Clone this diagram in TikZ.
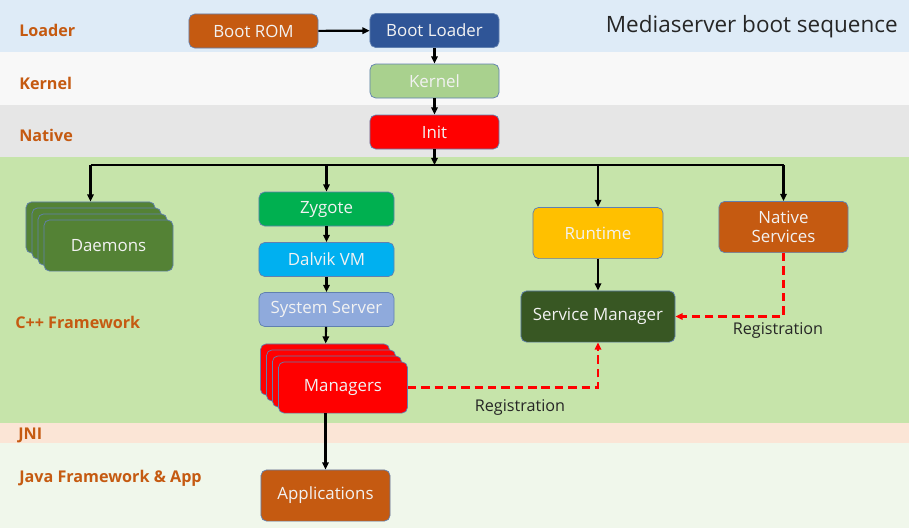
\documentclass[tikz,border=0pt]{standalone}
\usepackage{fontspec}
\setmainfont{Open Sans}
\usetikzlibrary{arrows.meta, positioning}
\definecolor{loaderband}{RGB}{222,235,247}
\definecolor{kernelband}{RGB}{248,248,248}
\definecolor{nativeband}{RGB}{230,230,230}
\definecolor{cppband}{RGB}{198,228,170}
\definecolor{jniband}{RGB}{251,229,214}
\definecolor{javaband}{RGB}{240,247,235}
\definecolor{tiercolor}{RGB}{197,90,17}
\definecolor{boxborder}{RGB}{96,128,176}
\definecolor{boxtext}{RGB}{242,242,242}
\definecolor{romcolor}{RGB}{197,90,17}
\definecolor{loadercolor}{RGB}{47,85,151}
\definecolor{kernelcolor}{RGB}{169,209,142}
\definecolor{initcolor}{RGB}{255,0,0}
\definecolor{daemoncolor}{RGB}{84,130,53}
\definecolor{zygotecolor}{RGB}{0,176,80}
\definecolor{dalvikcolor}{RGB}{0,176,240}
\definecolor{servercolor}{RGB}{143,170,220}
\definecolor{runtimecolor}{RGB}{255,192,0}
\definecolor{svcmgrcolor}{RGB}{56,87,35}
\tikzset{
    box/.style={rectangle, draw=boxborder, rounded corners=4pt, line width=0.5pt,
        minimum width=3.225cm, minimum height=0.85cm, align=center, text=boxtext,
        font=\fontsize{12}{14}\selectfont},
    widebox/.style={box, minimum width=3.375cm},
    tallbox/.style={box, minimum height=1.28cm},
    tier/.style={anchor=west, inner sep=0pt, text=tiercolor,
        font=\fontsize{11.5}{13}\selectfont\bfseries},
    note/.style={inner sep=0pt, text=black!85, font=\fontsize{11.5}{13}\selectfont},
    arrow/.style={-{Triangle[length=1.8mm,width=1.6mm]}, line width=1.5pt},
    wire/.style={line width=1.5pt},
    regline/.style={-{Triangle[length=1.8mm,width=1.6mm]}, red, line width=1.6pt,
        dash pattern=on 6pt off 3.5pt}
}

\begin{document}
\begin{tikzpicture}[x=0.025cm, y=-0.025cm]

    \useasboundingbox (0,0) rectangle (909,528);

    % layer bands
    \fill[loaderband] (0,0) rectangle (909,52);
    \fill[kernelband] (0,52) rectangle (909,105);
    \fill[nativeband] (0,105) rectangle (909,157);
    \fill[cppband] (0,157) rectangle (909,423);
    \fill[jniband] (0,423) rectangle (909,443);
    \fill[javaband] (0,443) rectangle (909,528);

    \node[tier] (tloader) at (19,30) {Loader};
    \node[tier] (tkernel) at (19,83) {Kernel};
    \node[tier] (tnative) at (19,135) {Native};
    \node[tier] (tcpp) at (15,322) {C++ Framework};
    \node[tier] (tjni) at (18,435) {JNI};
    \node[tier] (tjava) at (19,478) {Java Framework \& App};

    \node[anchor=east, inner sep=0pt, text=black!85, font=\fontsize{16}{19}\selectfont] (title) at (898,27) {Mediaserver boot sequence};

    % boot chain
    \node[box, fill=romcolor] (bootrom) at (253.5,31) {Boot ROM};
    \node[box, fill=loadercolor] (bootloader) at (434.5,30.5) {Boot Loader};
    \node[box, fill=kernelcolor] (kernel) at (434.5,81) {Kernel};
    \node[box, fill=initcolor] (init) at (434.5,132) {Init};
    \coordinate (bus) at (434.5,165);

    % daemons (stacked)
    \node[tallbox, fill=daemoncolor] (daemons3) at (90.5,227.5) {};
    \node[tallbox, fill=daemoncolor] (daemons2) at (96.5,233.5) {};
    \node[tallbox, fill=daemoncolor] (daemons1) at (102.5,239.5) {};
    \node[tallbox, fill=daemoncolor] (daemons) at (108.5,245.5) {Daemons};

    % java side
    \node[widebox, fill=zygotecolor] (zygote) at (326.5,209) {Zygote};
    \node[widebox, fill=dalvikcolor] (dalvik) at (326.5,259.5) {Dalvik VM};
    \node[widebox, fill=servercolor] (sysserver) at (326.5,309.5) {System Server};

    \node[widebox, tallbox, fill=initcolor] (managers3) at (325,369.5) {};
    \node[widebox, tallbox, fill=initcolor] (managers2) at (331,375.5) {};
    \node[widebox, tallbox, fill=initcolor] (managers1) at (337,381.5) {};
    \node[widebox, tallbox, fill=initcolor] (managers) at (343,387.5) {Managers};

    \node[widebox, tallbox, fill=romcolor] (apps) at (325.5,495.5) {Applications};

    % native side
    \node[tallbox, minimum width=3.25cm, fill=runtimecolor] (runtime) at (598,233) {Runtime};
    \node[tallbox, fill=romcolor] (nativesvc) at (783.5,227) {Native\\Services};
    \node[tallbox, minimum width=3.85cm, fill=svcmgrcolor] (svcmgr) at (598,316.5) {Service Manager};

    \draw[arrow] (bootrom) -- (bootloader);
    \draw[arrow] (bootloader) -- (kernel);
    \draw[arrow] (kernel) -- (init);
    \draw[arrow] (init) -- (bus);

    \draw[wire] (daemons3.north |- bus) -- (nativesvc.north |- bus);
    \draw[arrow] (daemons3.north |- bus) -- (daemons3.north);
    \draw[arrow] (zygote.north |- bus) -- (zygote.north);
    \draw[arrow] (runtime.north |- bus) -- (runtime.north);
    \draw[arrow] (nativesvc.north |- bus) -- (nativesvc.north);

    \draw[arrow] (zygote) -- (dalvik);
    \draw[arrow] (dalvik) -- (sysserver);
    \draw[arrow] (sysserver) -- (managers3);
    \draw[arrow] (managers.south -| apps.north) -- (apps);
    \draw[arrow] (runtime) -- (svcmgr);

    \draw[regline] (nativesvc.south) |- (svcmgr.east);
    \draw[regline] (managers.east) -| (svcmgr.south);

    \node[note] (reg1) at (778,331) {Registration};
    \node[note] (reg2) at (520,408) {Registration};

\end{tikzpicture}
\end{document}
